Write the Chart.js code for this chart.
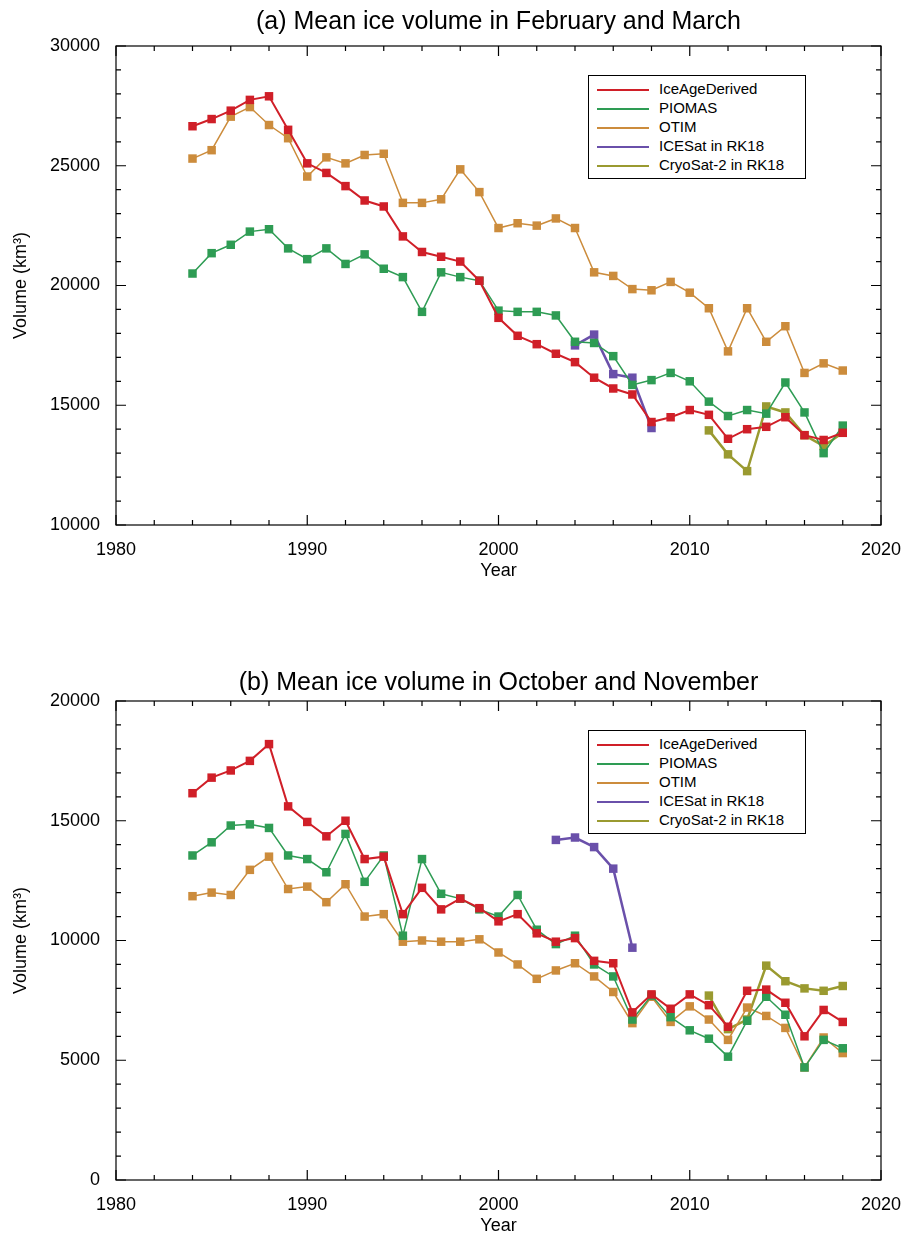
<!DOCTYPE html>
<html>
<head>
<meta charset="utf-8">
<script src="https://cdn.jsdelivr.net/npm/chart.js@4"></script>
<style>
  body { margin: 0; background: #fff; font-family: "Liberation Sans", Arial, sans-serif; }
  .wrap { position: absolute; left: 0; width: 913px; }
  .title { position: absolute; left: 116px; width: 765px; text-align: center; font-size: 25px; color: #000; }
  .legend { position: absolute; border: 1px solid #000; background: #fff; padding: 3px 8px 4px 8px; font-size: 15px; line-height: 19px; }
  .legend div { white-space: nowrap; }
  .legend span.ln { display: inline-block; width: 52px; height: 0; border-top: 2px solid; vertical-align: middle; margin-right: 10px; }
</style>
</head>
<body>
<div class="wrap" style="top:0;height:600px"><canvas id="chartA"></canvas></div>
<div class="title" style="top:6px">(a) Mean ice volume in February and March</div>
<div class="wrap" style="top:620px;height:617px"><canvas id="chartB"></canvas></div>
<div class="title" style="top:667px">(b) Mean ice volume in October and November</div>
<div class="legend" id="legA" style="left:588px;top:75px;width:200px"></div>
<div class="legend" id="legB" style="left:588px;top:730px;width:200px"></div>
<script>
const years = [];
for (let y = 1984; y <= 2018; y++) years.push(y);

// (a) February-March
const iceAgeA = [26650, 26950, 27300, 27750, 27900, 26500, 25100, 24700, 24150, 23550, 23300, 22050, 21400, 21200, 21000, 20200, 18650, 17900, 17550, 17150, 16800, 16150, 15700, 15450, 14300, 14500, 14800, 14600, 13600, 14000, 14100, 14500, 13750, 13550, 13850];
const piomasA = [20500, 21350, 21700, 22250, 22350, 21550, 21100, 21550, 20900, 21300, 20700, 20350, 18900, 20550, 20350, 20200, 18950, 18900, 18900, 18750, 17650, 17600, 17050, 15850, 16050, 16350, 16000, 15150, 14550, 14800, 14650, 15950, 14700, 13000, 14150];
const otimA = [25300, 25650, 27050, 27450, 26700, 26150, 24550, 25350, 25100, 25450, 25500, 23450, 23450, 23600, 24850, 23900, 22400, 22600, 22500, 22800, 22400, 20550, 20400, 19850, 19800, 20150, 19700, 19050, 17250, 19050, 17650, 18300, 16350, 16750, 16450];
const icesatYearsA = [2004, 2005, 2006, 2007, 2008];
const icesatA = [17500, 17950, 16300, 16150, 14050];
const cryoYears = [2011, 2012, 2013, 2014, 2015, 2016, 2017, 2018];
const cryoA = [13950, 12950, 12250, 14950, 14700, 13750, 13300, 13850];

// (b) October-November
const iceAgeB = [16150, 16800, 17100, 17500, 18200, 15600, 14950, 14350, 15000, 13400, 13500, 11100, 12200, 11300, 11750, 11350, 10800, 11100, 10300, 9950, 10100, 9150, 9050, 7000, 7750, 7150, 7750, 7300, 6400, 7900, 7950, 7400, 6000, 7100, 6600];
const piomasB = [13550, 14100, 14800, 14850, 14700, 13550, 13400, 12850, 14450, 12450, 13550, 10200, 13400, 11950, 11750, 11300, 11000, 11900, 10450, 9850, 10200, 9000, 8500, 6700, 7700, 6800, 6250, 5900, 5150, 6650, 7650, 6900, 4700, 5850, 5500];
const otimB = [11850, 12000, 11900, 12950, 13500, 12150, 12250, 11600, 12350, 11000, 11100, 9950, 10000, 9950, 9950, 10050, 9500, 9000, 8400, 8750, 9050, 8500, 7850, 6550, 7650, 6600, 7250, 6700, 5850, 7200, 6850, 6350, 4700, 5950, 5300];
const icesatYearsB = [2003, 2004, 2005, 2006, 2007];
const icesatB = [14200, 14300, 13900, 13000, 9700];
const cryoB = [7700, 6300, 6700, 8950, 8300, 8000, 7900, 8100];

const names = ['IceAgeDerived', 'PIOMAS', 'OTIM', 'ICESat in RK18', 'CryoSat-2 in RK18'];
const colors = ['#d01f28', '#2e9c54', '#cc8c3c', '#6a50aa', '#9a9a30'];

function pts(xs, ys) { return xs.map((x, i) => ({ x: x, y: ys[i] })); }

function ds(label, data, color, width) {
  return {
    label: label, data: data, borderColor: color, backgroundColor: color,
    borderWidth: width, pointStyle: 'rect', pointRadius: 6, pointBorderWidth: 0,
    pointBackgroundColor: color, tension: 0
  };
}

const frameTicks = {
  id: 'frameTicks',
  afterDraw(chart) {
    const ctx = chart.ctx, a = chart.chartArea;
    const xs = chart.scales.x, ys = chart.scales.y;
    ctx.save();
    ctx.strokeStyle = '#000';
    ctx.lineWidth = 1.2;
    ctx.strokeRect(a.left, a.top, a.right - a.left, a.bottom - a.top);
    ctx.beginPath();
    for (let v = xs.min; v <= xs.max; v += 2) {
      const px = xs.getPixelForValue(v);
      const len = (v % 10 === 0) ? 10 : 5;
      ctx.moveTo(px, a.bottom); ctx.lineTo(px, a.bottom - len);
      ctx.moveTo(px, a.top); ctx.lineTo(px, a.top + len);
    }
    for (let v = ys.min; v <= ys.max; v += 1000) {
      const py = ys.getPixelForValue(v);
      const len = (v % 5000 === 0) ? 10 : 5;
      ctx.moveTo(a.left, py); ctx.lineTo(a.left + len, py);
      ctx.moveTo(a.right, py); ctx.lineTo(a.right - len, py);
    }
    ctx.stroke();
    ctx.restore();
  }
};

function makeChart(id, datasets, yMin, yMax, padTop, padBottom) {
  new Chart(document.getElementById(id), {
    type: 'line',
    data: { datasets: datasets },
    options: {
      responsive: true, maintainAspectRatio: false, animation: false,
      layout: { padding: { top: padTop, right: 32, left: 10, bottom: padBottom } },
      plugins: { legend: { display: false }, tooltip: { enabled: false } },
      scales: {
        x: {
          type: 'linear', min: 1980, max: 2020,
          grid: { display: false }, border: { display: false },
          ticks: { stepSize: 10, color: '#000', font: { size: 18, family: 'Liberation Sans' }, padding: 6, maxRotation: 0, callback: v => String(v) },
          title: { display: true, text: 'Year', color: '#000', font: { size: 18, family: 'Liberation Sans' }, padding: 0 },
          afterFit: s => { s.height = 57; }
        },
        y: {
          min: yMin, max: yMax,
          grid: { display: false }, border: { display: false },
          ticks: { stepSize: 5000, color: '#000', font: { size: 18, family: 'Liberation Sans' }, padding: 8, callback: v => String(v) },
          title: { display: true, text: 'Volume (km³)', color: '#000', font: { size: 18, family: 'Liberation Sans' }, padding: 0 },
          afterFit: s => { s.width = 106; }
        }
      }
    },
    plugins: [frameTicks]
  });
}

makeChart('chartA', [
  ds(names[0], pts(years, iceAgeA), colors[0], 2),
  ds(names[1], pts(years, piomasA), colors[1], 1.5),
  ds(names[2], pts(years, otimA), colors[2], 1.5),
  ds(names[3], pts(icesatYearsA, icesatA), colors[3], 2.5),
  ds(names[4], pts(cryoYears, cryoA), colors[4], 2.5)
], 10000, 30000, 46, 18);

makeChart('chartB', [
  ds(names[0], pts(years, iceAgeB), colors[0], 2),
  ds(names[1], pts(years, piomasB), colors[1], 1.5),
  ds(names[2], pts(years, otimB), colors[2], 1.5),
  ds(names[3], pts(icesatYearsB, icesatB), colors[3], 2.5),
  ds(names[4], pts(cryoYears, cryoB), colors[4], 2.5)
], 0, 20000, 81, 0);

['legA', 'legB'].forEach(id => {
  const el = document.getElementById(id);
  el.innerHTML = names.map((n, i) => '<div><span class="ln" style="border-color:' + colors[i] + '"></span>' + n + '</div>').join('');
});
</script>
</body>
</html>
